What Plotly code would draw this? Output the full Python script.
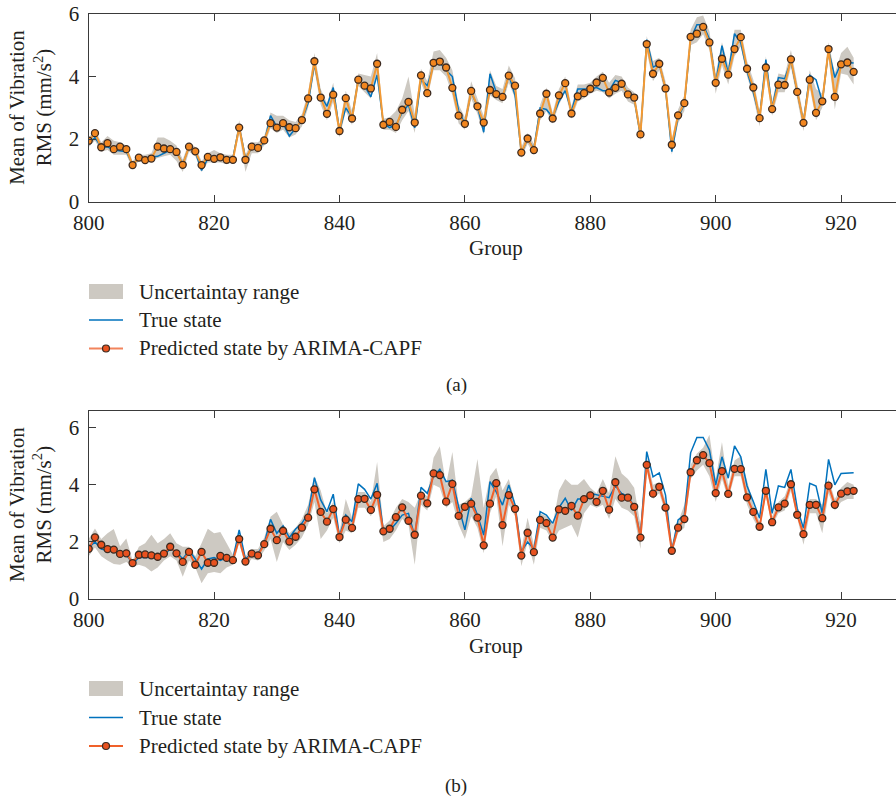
import plotly.graph_objects as go

# ---------------- data ----------------
groups = list(range(800, 923))

# (a) ARIMA-CAPF, first configuration
pred_a = [1.95, 2.19, 1.74, 1.87, 1.68, 1.76, 1.68, 1.17, 1.41, 1.33,
          1.38, 1.76, 1.70, 1.68, 1.59, 1.18, 1.76, 1.61, 1.17, 1.43,
          1.37, 1.42, 1.34, 1.34, 2.37, 1.34, 1.76, 1.72, 1.96, 2.51,
          2.37, 2.51, 2.38, 2.35, 2.61, 3.30, 4.49, 3.33, 2.81, 3.42,
          2.26, 3.31, 2.66, 3.90, 3.71, 3.62, 4.41, 2.46, 2.55, 2.39,
          2.94, 3.19, 2.53, 4.04, 3.47, 4.44, 4.48, 4.29, 3.64, 2.75,
          2.49, 3.54, 3.05, 2.53, 3.57, 3.44, 3.35, 4.03, 3.71, 1.57,
          2.02, 1.65, 2.82, 3.45, 2.66, 3.40, 3.79, 2.82, 3.37, 3.47,
          3.61, 3.81, 3.96, 3.49, 3.64, 3.77, 3.43, 3.33, 2.15, 5.04,
          4.09, 4.41, 3.62, 1.82, 2.76, 3.15, 5.27, 5.37, 5.59, 5.09,
          3.80, 4.57, 4.06, 4.88, 5.26, 4.25, 3.65, 2.67, 4.29, 2.96,
          3.74, 3.73, 4.55, 3.51, 2.52, 3.90, 2.84, 3.21, 4.88, 3.35,
          4.39, 4.45, 4.15]
true_a = [1.85, 2.05, 1.75, 1.75, 1.65, 1.62, 1.60, 1.20, 1.40, 1.40,
          1.42, 1.45, 1.55, 1.65, 1.60, 1.20, 1.75, 1.60, 1.00, 1.38,
          1.40, 1.40, 1.40, 1.40, 2.40, 1.40, 1.70, 1.70, 1.90, 2.75,
          2.40, 2.50, 2.10, 2.35, 2.60, 3.15, 4.40, 3.40, 3.05, 3.65,
          2.26, 3.00, 2.70, 3.90, 3.70, 3.35, 4.05, 2.50, 2.37, 2.45,
          2.85, 3.10, 2.36, 3.90, 3.71, 4.35, 4.45, 4.20, 4.00, 2.90,
          2.50, 3.50, 3.05, 2.22, 4.09, 3.50, 3.30, 4.05, 3.40, 1.55,
          2.00, 1.70, 3.00, 2.95, 2.70, 3.20, 3.55, 2.90, 3.60, 3.60,
          3.60, 3.65, 3.55, 3.55, 3.88, 3.80, 3.45, 3.30, 2.10, 5.18,
          4.30, 4.40, 3.60, 1.60, 2.70, 3.10, 5.20, 5.66, 5.66, 5.20,
          3.80, 4.99, 4.10, 5.37, 5.08, 4.17, 3.50, 2.70, 4.54, 3.00,
          3.97, 3.93, 4.50, 3.50, 2.55, 4.04, 3.90, 3.20, 4.85, 3.97,
          4.43, 4.45, 4.43]
low_a = [1.75, 1.95, 1.60, 1.65, 1.50, 1.50, 1.50, 1.05, 1.30, 1.25,
         1.30, 1.40, 1.45, 1.50, 1.30, 0.95, 1.60, 1.45, 0.95, 1.25,
         1.25, 1.25, 1.20, 1.25, 2.20, 0.95, 1.55, 1.55, 1.80, 2.35,
         2.20, 2.30, 2.05, 2.15, 2.40, 3.00, 4.20, 3.10, 2.60, 3.20,
         2.05, 2.90, 2.45, 3.70, 3.50, 3.30, 4.00, 2.30, 2.30, 2.20,
         2.60, 2.90, 2.20, 3.80, 3.30, 4.20, 4.20, 4.00, 3.40, 2.50,
         2.30, 3.30, 2.80, 2.15, 3.40, 3.25, 3.15, 3.80, 3.30, 1.40,
         1.85, 1.50, 2.60, 2.90, 2.50, 3.10, 3.50, 2.65, 3.20, 3.30,
         3.45, 3.55, 3.50, 3.30, 3.45, 3.55, 3.20, 3.10, 1.95, 4.80,
         3.85, 4.20, 3.40, 1.50, 2.50, 2.90, 5.00, 5.10, 5.35, 4.85,
         3.45, 4.35, 3.75, 4.65, 4.95, 4.00, 3.35, 2.40, 4.05, 2.75,
         3.50, 3.50, 4.30, 3.30, 2.25, 3.65, 2.60, 3.00, 4.60, 2.95,
         4.10, 4.05, 3.75]
high_a = [2.05, 2.30, 1.90, 2.10, 1.95, 1.90, 1.80, 1.30, 1.50, 1.50,
          1.55, 2.05, 2.05, 1.95, 1.80, 1.35, 1.90, 1.75, 1.30, 1.55,
          1.65, 1.55, 1.50, 1.50, 2.60, 1.50, 1.90, 1.90, 2.10, 2.85,
          2.75, 2.75, 2.60, 2.55, 2.80, 3.50, 4.75, 3.60, 3.15, 3.80,
          2.45, 3.55, 2.90, 4.10, 4.05, 4.00, 4.75, 2.65, 2.70, 2.90,
          3.30, 4.00, 2.80, 4.25, 3.85, 4.80, 4.85, 4.60, 4.20, 3.10,
          2.70, 3.85, 3.30, 2.75, 4.20, 3.70, 3.60, 4.35, 3.95, 1.75,
          2.20, 1.85, 3.10, 3.65, 2.85, 3.60, 4.00, 3.05, 3.75, 3.75,
          3.80, 4.00, 4.15, 3.80, 4.05, 4.00, 3.65, 3.50, 2.35, 5.30,
          4.50, 4.60, 3.85, 2.00, 2.95, 3.40, 5.50, 5.90, 5.95, 5.45,
          4.10, 5.10, 4.35, 5.50, 5.50, 4.50, 3.90, 2.90, 4.65, 3.20,
          4.10, 4.05, 4.85, 3.75, 2.75, 4.20, 3.60, 3.45, 5.10, 4.10,
          4.75, 4.95, 4.60]

# (b) ARIMA-CAPF, second configuration
pred_b = [1.76, 2.16, 1.90, 1.75, 1.73, 1.58, 1.60, 1.26, 1.55, 1.56,
          1.53, 1.48, 1.59, 1.83, 1.60, 1.30, 1.65, 1.20, 1.65, 1.27,
          1.27, 1.51, 1.44, 1.36, 2.10, 1.31, 1.59, 1.53, 1.92, 2.46,
          2.06, 2.39, 2.01, 2.18, 2.50, 2.85, 3.84, 3.05, 2.71, 3.15,
          2.17, 2.78, 2.49, 3.50, 3.51, 3.12, 3.65, 2.37, 2.46, 2.87,
          3.21, 2.74, 2.25, 3.62, 3.35, 4.40, 4.34, 3.41, 4.03, 2.91,
          3.23, 3.34, 2.85, 1.88, 3.34, 4.06, 2.59, 3.64, 3.16, 1.52,
          2.32, 1.64, 2.77, 2.66, 2.15, 3.14, 3.09, 3.26, 2.92, 3.50,
          3.63, 3.40, 3.79, 3.13, 4.09, 3.55, 3.55, 3.23, 2.15, 4.70,
          3.69, 3.93, 3.20, 1.69, 2.50, 2.80, 4.44, 4.86, 5.04, 4.76,
          3.71, 4.48, 3.68, 4.56, 4.55, 3.56, 3.05, 2.53, 3.79, 2.69,
          3.21, 3.34, 4.02, 2.95, 2.27, 3.30, 3.30, 2.83, 3.97, 3.30,
          3.69, 3.77, 3.79]
true_b = [1.80, 2.00, 1.75, 1.70, 1.65, 1.60, 1.55, 1.25, 1.45, 1.45,
          1.45, 1.45, 1.55, 1.75, 1.65, 1.40, 1.70, 1.40, 1.05, 1.40,
          1.45, 1.35, 1.45, 1.40, 2.42, 1.40, 1.60, 1.60, 1.95, 2.79,
          2.30, 2.56, 2.15, 2.45, 2.65, 3.00, 4.25, 3.47, 3.06, 3.67,
          2.20, 2.94, 2.71, 4.03, 3.84, 3.50, 4.05, 2.40, 2.40, 2.65,
          2.94, 3.00, 2.20, 3.91, 3.70, 4.30, 4.54, 4.11, 4.16, 3.23,
          2.42, 3.53, 2.94, 2.24, 4.11, 3.75, 3.29, 3.99, 3.30, 1.66,
          2.00, 1.75, 3.06, 2.94, 2.65, 3.20, 3.53, 3.10, 3.50, 3.50,
          3.70, 3.65, 3.58, 3.55, 3.96, 3.70, 3.60, 3.25, 2.20, 5.16,
          4.28, 4.42, 3.64, 1.70, 2.77, 2.94, 5.12, 5.66, 5.66, 5.22,
          3.99, 4.98, 4.23, 5.36, 4.98, 3.96, 3.41, 2.83, 4.54, 3.00,
          3.96, 3.91, 4.54, 3.18, 2.48, 4.05, 3.96, 3.00, 4.89, 4.00,
          4.40, 4.42, 4.42]
low_b = [1.50, 1.80, 1.50, 1.35, 1.23, 1.20, 1.30, 1.13, 1.20, 1.13,
         0.96, 1.10, 1.35, 1.50, 1.35, 0.78, 1.35, 1.10, 0.55, 0.90,
         0.95, 0.90, 1.10, 1.20, 1.95, 1.15, 1.40, 1.35, 1.70, 2.10,
         1.30, 2.00, 1.72, 1.90, 2.15, 2.60, 3.40, 2.10, 2.40, 2.85,
         1.95, 2.40, 2.30, 3.20, 3.20, 2.90, 3.30, 2.00, 2.10, 2.40,
         2.80, 2.60, 1.20, 3.30, 3.10, 4.00, 3.90, 3.20, 3.40, 2.60,
         2.10, 2.90, 2.50, 1.60, 3.00, 3.60, 1.85, 3.30, 2.90, 1.15,
         2.00, 1.20, 2.50, 2.40, 2.00, 2.40, 2.50, 2.60, 2.15, 3.00,
         3.30, 3.20, 3.30, 2.80, 3.50, 3.20, 3.10, 2.90, 1.75, 4.50,
         3.50, 3.70, 3.00, 1.60, 2.30, 2.50, 4.20, 4.50, 4.70, 4.30,
         3.40, 4.20, 3.50, 4.30, 4.30, 3.30, 2.80, 2.40, 3.60, 2.55,
         3.00, 3.10, 3.80, 2.80, 1.90, 3.00, 3.00, 2.30, 3.70, 3.10,
         3.40, 3.50, 3.50]
high_b = [2.10, 2.47, 2.10, 2.30, 2.45, 1.85, 2.12, 1.35, 1.83, 1.95,
          2.25, 1.95, 2.10, 2.30, 1.95, 1.83, 1.83, 1.50, 1.95, 2.46,
          2.30, 2.35, 1.95, 1.55, 2.30, 1.50, 1.75, 1.75, 2.15, 2.88,
          3.06, 2.60, 2.30, 2.50, 2.80, 3.30, 4.30, 3.80, 3.00, 3.40,
          2.35, 3.50, 2.85, 3.75, 3.75, 3.40, 4.80, 2.55, 2.75, 3.20,
          3.50, 3.40, 3.20, 3.75, 3.60, 4.95, 5.35, 4.00, 5.15, 3.30,
          3.40, 3.60, 4.90, 3.20, 4.30, 4.60, 3.80, 4.20, 3.40, 1.75,
          2.85, 1.90, 3.00, 2.90, 2.60, 3.80, 4.20, 4.00, 4.00, 4.20,
          3.90, 3.70, 4.20, 3.70, 5.00, 4.40, 4.20, 3.90, 2.60, 5.00,
          4.00, 4.10, 3.45, 1.80, 2.70, 3.30, 4.70, 5.10, 5.30, 5.75,
          4.20, 5.50, 3.95, 4.85, 5.00, 4.10, 3.30, 2.70, 4.00, 2.90,
          3.40, 3.60, 4.20, 3.10, 2.40, 3.50, 3.50, 3.30, 4.20, 3.50,
          3.90, 4.10, 4.00]

legend_labels = ["Uncertaintay range", "True state", "Predicted state by ARIMA-CAPF"]
x_ticks = [800, 820, 840, 860, 880, 900, 920]
y_ticks = [0, 2, 4, 6]

# ---------------- styling ----------------
W, H = 896, 803
FONT = "Liberation Serif"
INK = "#231f20"
BAND = "#cdc9c2"
BLUE = "#0072bd"
AXIS_LINE = "#3a3a3a"

panels = [
    dict(pred=pred_a, true=true_a, low=low_a, high=high_a,
         top=14, bottom=201.7, ymax=6.0, line="#f39a34", mfill="#f2861f",
         leg_line="#f2845c", leg_mfill="#e8521f",
         title_y=248, legend_y=[291.5, 320, 348.5], caption="(a)", caption_y=385),
    dict(pred=pred_b, true=true_b, low=low_b, high=high_b,
         top=411, bottom=599, ymax=6.585, line="#f0612a", mfill="#e8521f",
         leg_line="#f0612a", leg_mfill="#e8521f",
         title_y=646, legend_y=[688.5, 717.5, 746], caption="(b)", caption_y=786),
]

X_LEFT = 88.7
PX_PER_UNIT = 6.27
x_range = [800, 800 + (W - X_LEFT) / PX_PER_UNIT]


def px_x(v):
    return v / W


def px_y(v):
    return 1 - v / H


fig = go.Figure()
shapes, annotations = [], []
layout_axes = {}

for i, p in enumerate(panels, start=1):
    xa = "x" if i == 1 else f"x{i}"
    ya = "y" if i == 1 else f"y{i}"
    # uncertainty band as a closed polygon
    fig.add_trace(go.Scatter(
        x=groups + groups[::-1], y=p["high"] + p["low"][::-1],
        fill="toself", fillcolor=BAND, line=dict(width=0),
        mode="lines", hoverinfo="skip", showlegend=False,
        xaxis=xa, yaxis=ya))
    fig.add_trace(go.Scatter(
        x=groups, y=p["true"], mode="lines",
        line=dict(color=BLUE, width=1.5), showlegend=False,
        xaxis=xa, yaxis=ya))
    fig.add_trace(go.Scatter(
        x=groups, y=p["pred"], mode="lines+markers",
        line=dict(color=p["line"], width=2),
        marker=dict(size=7, color=p["mfill"], line=dict(color="#3b2a20", width=1.3)),
        showlegend=False, xaxis=xa, yaxis=ya))

    axis_common = dict(
        showgrid=False, zeroline=False, showline=True, linecolor=AXIS_LINE,
        linewidth=1.4, ticks="inside", ticklen=7, tickwidth=1.2, automargin=False,
        tickcolor=AXIS_LINE, tickfont=dict(family=FONT, size=21, color=INK))
    layout_axes["xaxis" if i == 1 else f"xaxis{i}"] = dict(
        axis_common, domain=[X_LEFT / W, 1], range=x_range, tickvals=x_ticks,
        mirror="ticks", anchor=ya, ticklabelstandoff=2)
    layout_axes["yaxis" if i == 1 else f"yaxis{i}"] = dict(
        axis_common, domain=[px_y(p["bottom"]), px_y(p["top"])],
        range=[0, p["ymax"]], tickvals=y_ticks, anchor=xa, ticklabelstandoff=4)

    mid = (p["top"] + p["bottom"]) / 2
    annotations.append(dict(
        text="Mean of Vibration<br>RMS (mm/s<sup>2</sup>)", textangle=-90,
        x=px_x(31), y=px_y(mid), xref="paper", yref="paper",
        xanchor="center", yanchor="middle",
        showarrow=False, font=dict(family=FONT, size=21, color=INK)))
    annotations.append(dict(
        text="Group", x=px_x(496), y=px_y(p["title_y"]), xref="paper", yref="paper",
        xanchor="center", yanchor="middle",
        showarrow=False, font=dict(family=FONT, size=21, color=INK)))
    annotations.append(dict(
        text=p["caption"], x=px_x(456), y=px_y(p["caption_y"]), xref="paper",
        yref="paper", xanchor="center", yanchor="middle", showarrow=False,
        font=dict(family=FONT, size=19, color=INK)))

    # legend block
    ly = p["legend_y"]
    shapes.append(dict(type="rect", xref="paper", yref="paper",
                       x0=px_x(89), x1=px_x(123), y0=px_y(ly[0] - 7.5), y1=px_y(ly[0] + 7.5),
                       fillcolor=BAND, line=dict(width=0)))
    shapes.append(dict(type="line", xref="paper", yref="paper",
                       x0=px_x(89), x1=px_x(123), y0=px_y(ly[1]), y1=px_y(ly[1]),
                       line=dict(color=BLUE, width=1.5)))
    shapes.append(dict(type="line", xref="paper", yref="paper",
                       x0=px_x(89), x1=px_x(123), y0=px_y(ly[2]), y1=px_y(ly[2]),
                       line=dict(color=p["leg_line"], width=2)))
    shapes.append(dict(type="circle", xref="paper", yref="paper",
                       x0=px_x(102.5), x1=px_x(109.5), y0=px_y(ly[2] - 3.5), y1=px_y(ly[2] + 3.5),
                       fillcolor=p["leg_mfill"], line=dict(color="#3b2a20", width=1.2)))
    for label, yy in zip(legend_labels, ly):
        annotations.append(dict(
            text=label, x=px_x(137), y=px_y(yy), xref="paper", yref="paper",
            xanchor="left", yanchor="middle", showarrow=False,
            font=dict(family=FONT, size=21, color=INK)))

fig.update_layout(
    width=W, height=H, margin=dict(l=0, r=0, t=0, b=0, pad=0, autoexpand=False),
    paper_bgcolor="white", plot_bgcolor="white", showlegend=False,
    shapes=shapes, annotations=annotations, **layout_axes)

fig.write_html("out.html")
